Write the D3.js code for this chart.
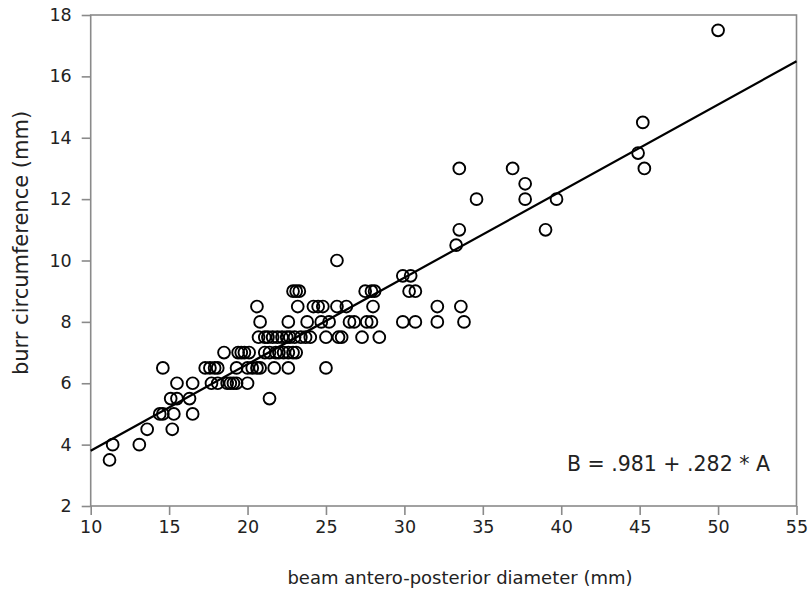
<!DOCTYPE html>
<html>
<head>
<meta charset="utf-8">
<script src="https://cdn.jsdelivr.net/npm/d3@7"></script>
<style>
  body { margin: 0; background: #fff; }
  text { font-family: "DejaVu Sans", Verdana, sans-serif; fill: #222; }
</style>
</head>
<body>
<div id="chart"></div>
<script>
// beam antero-posterior diameter (mm)
var diameter = [
  11.2,
  11.4, 13.1,
  13.6, 15.2,
  14.4, 14.6, 15.3, 16.5,
  15.1, 15.5, 16.3, 21.4,
  15.5, 16.5, 17.7, 18.1, 18.7, 18.9, 19.1, 19.3, 20.0,
  14.6, 17.3, 17.6, 17.9, 18.1, 19.3, 20.0, 20.3, 20.6, 20.8, 21.7, 22.6, 25.0,
  18.5, 19.4, 19.6, 19.8, 20.1, 21.1, 21.4, 21.8, 22.0, 22.3, 22.6, 22.9, 23.1,
  20.7, 21.1, 21.3, 21.6, 21.9, 22.2, 22.5, 22.7, 23.0, 23.4, 23.7, 24.0, 25.0, 25.8, 26.0, 27.3, 28.4,
  20.8, 22.6, 23.8, 24.7, 25.2, 26.5, 26.8, 27.6, 27.9, 29.9, 30.7, 32.1, 33.8,
  20.6, 23.2, 24.2, 24.5, 24.8, 25.7, 26.3, 28.0, 32.1, 33.6,
  22.9, 23.1, 23.3, 27.5, 27.9, 28.1, 30.3, 30.7,
  29.9, 30.4,
  25.7,
  33.3,
  33.5, 39.0,
  34.6, 37.7, 39.7,
  37.7,
  33.5, 36.9, 45.3,
  44.9,
  45.2,
  50.0
];
// burr circumference (mm)
var circumference = [
  3.5,
  4, 4,
  4.5, 4.5,
  5, 5, 5, 5,
  5.5, 5.5, 5.5, 5.5,
  6, 6, 6, 6, 6, 6, 6, 6, 6,
  6.5, 6.5, 6.5, 6.5, 6.5, 6.5, 6.5, 6.5, 6.5, 6.5, 6.5, 6.5, 6.5,
  7, 7, 7, 7, 7, 7, 7, 7, 7, 7, 7, 7, 7,
  7.5, 7.5, 7.5, 7.5, 7.5, 7.5, 7.5, 7.5, 7.5, 7.5, 7.5, 7.5, 7.5, 7.5, 7.5, 7.5, 7.5,
  8, 8, 8, 8, 8, 8, 8, 8, 8, 8, 8, 8, 8,
  8.5, 8.5, 8.5, 8.5, 8.5, 8.5, 8.5, 8.5, 8.5, 8.5,
  9, 9, 9, 9, 9, 9, 9, 9,
  9.5, 9.5,
  10,
  10.5,
  11, 11,
  12, 12, 12,
  12.5,
  13, 13, 13,
  13.5,
  14.5,
  17.5
];
var xTicks = [10, 15, 20, 25, 30, 35, 40, 45, 50, 55];
var yTicks = [2, 4, 6, 8, 10, 12, 14, 16, 18];
var fitIntercept = 0.981, fitSlope = 0.282;
var fitLabel = "B = .981 + .282 * A";

var width = 810, height = 590;
var margin = {top: 15, right: 13.5, bottom: 84, left: 90.7};

var svg = d3.select("#chart").append("svg")
    .attr("width", width)
    .attr("height", height);

var x = d3.scaleLinear().domain([10, 55]).range([margin.left, width - margin.right]);
var y = d3.scaleLinear().domain([2, 18]).range([height - margin.bottom, margin.top]);

var axisColor = "#8a8a8a";

// frame
svg.append("rect")
    .attr("x", x(10))
    .attr("y", y(18))
    .attr("width", x(55) - x(10))
    .attr("height", y(2) - y(18))
    .attr("fill", "none")
    .attr("stroke", axisColor)
    .attr("stroke-width", 1.6);

// minor ticks
var xMinor = d3.range(12.5, 55, 5);
var yMinor = d3.range(3, 18, 2);

var gx = svg.append("g")
    .attr("transform", "translate(0," + y(2) + ")");
gx.call(d3.axisBottom(x).tickValues(xMinor).tickSize(5).tickFormat(""));
gx.call(d3.axisBottom(x).tickValues(xTicks).tickSize(9).tickPadding(6).tickFormat(d3.format("d")));

var gy = svg.append("g")
    .attr("transform", "translate(" + x(10) + ",0)");
gy.call(d3.axisLeft(y).tickValues(yMinor).tickSize(5).tickFormat(""));
gy.call(d3.axisLeft(y).tickValues(yTicks).tickSize(9).tickPadding(10).tickFormat(d3.format("d")));

svg.selectAll(".domain").remove();
svg.selectAll(".tick line").attr("stroke", axisColor).attr("stroke-width", 1.6);
svg.selectAll(".tick text")
    .style("font-family", "'DejaVu Sans', Verdana, sans-serif")
    .style("font-size", "17.5px")
    .attr("fill", "#222");

// regression line
svg.append("line")
    .attr("x1", x(10))
    .attr("y1", y(fitIntercept + fitSlope * 10))
    .attr("x2", x(55))
    .attr("y2", y(fitIntercept + fitSlope * 55))
    .attr("stroke", "#000")
    .attr("stroke-width", 2.2);

// points
var pts = diameter.map(function(d, i) { return {a: d, b: circumference[i]}; });
svg.append("g")
  .selectAll("circle")
  .data(pts)
  .join("circle")
    .attr("cx", d => x(d.a))
    .attr("cy", d => y(d.b))
    .attr("r", 5.9)
    .attr("fill", "none")
    .attr("stroke", "#000")
    .attr("stroke-width", 1.9);

// equation
svg.append("text")
    .attr("x", 770)
    .attr("y", 471)
    .attr("text-anchor", "end")
    .style("font-size", "20.5px")
    .text(fitLabel);

// axis titles
svg.append("text")
    .attr("x", 460)
    .attr("y", 584)
    .attr("text-anchor", "middle")
    .style("font-size", "18px")
    .text("beam antero-posterior diameter (mm)");

svg.append("text")
    .attr("transform", "translate(28,243) rotate(-90)")
    .attr("text-anchor", "middle")
    .style("font-size", "21px")
    .text("burr circumference (mm)");
</script>
</body>
</html>
